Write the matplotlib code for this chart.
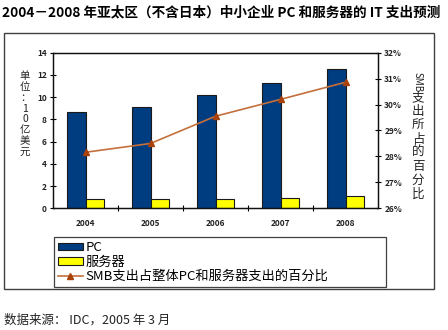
import matplotlib
matplotlib.use("Agg")
import matplotlib.pyplot as plt
import numpy as np
from matplotlib.patches import Rectangle

plt.rcParams['font.family'] = ['Noto Sans CJK SC', 'DejaVu Sans']

years = ["2004", "2005", "2006", "2007", "2008"]
pc = [8.7, 9.15, 10.15, 11.3, 12.55]
server = [0.85, 0.85, 0.85, 0.95, 1.1]
smb_share = [28.16, 28.5, 29.55, 30.2, 30.86]
left_ticks = [0, 2, 4, 6, 8, 10, 12, 14]
right_ticks = [26, 27, 28, 29, 30, 31, 32]

W, H = 448, 330
fig = plt.figure(figsize=(W / 100, H / 100), dpi=100)

def fx(px):
    return px / W

def fy(py):
    return 1 - py / H

# outer frame
fig.patches.append(Rectangle((fx(4), fy(289)), fx(430), (289 - 33) / H,
                             transform=fig.transFigure, fill=False,
                             edgecolor='#404040', linewidth=1.0))

ax = fig.add_axes([fx(53), fy(208.3), fx(378 - 53), (208.3 - 52.7) / H])
x = np.arange(len(years))
bw = 0.28
b1 = ax.bar(x - bw / 2, pc, bw, color='#003C80', edgecolor='#1a1a1a', linewidth=0.8, label='PC')
b2 = ax.bar(x + bw / 2, server, bw, color='#FFFF00', edgecolor='#1a1a1a', linewidth=0.8, label='服务器')
ax.set_xlim(-0.5, len(years) - 0.5)
ax.set_ylim(0, 14)
ax.set_yticks(left_ticks)
ax.set_yticklabels([str(t) for t in left_ticks], fontsize=6, fontweight='bold', color='#222222')
ax.set_xticks(np.arange(len(years) - 1) + 0.5)
ax.set_xticklabels([])
ax.set_xticks(x, minor=True)
ax.set_xticklabels(years, minor=True, fontsize=6, fontweight='bold', color='#222222')
ax.tick_params(axis='x', which='minor', length=0, pad=8)
ax.tick_params(axis='x', which='major', direction='inout', length=5, width=0.8)
ax.tick_params(axis='y', direction='inout', length=5, width=0.8, pad=2)
for s in ax.spines.values():
    s.set_linewidth(0.9)
    s.set_color('#111111')

ax2 = ax.twinx()
ln, = ax2.plot(x, smb_share, color='#C4703C', linewidth=1.2, marker='^', markersize=4,
               markerfacecolor='#A8420A', markeredgecolor='#A8420A',
               label='SMB支出占整体PC和服务器支出的百分比')
ax2.set_ylim(26, 32)
ax2.set_yticks(right_ticks)
ax2.set_yticklabels([f"{t}%" for t in right_ticks], fontsize=6, fontweight='bold', color='#222222')
ax2.tick_params(axis='y', direction='inout', length=5, width=0.8, pad=2)
for s in ax2.spines.values():
    s.set_linewidth(0.9)
    s.set_color('#111111')

# title
fig.text(fx(2), fy(12.5), "2004－2008 年亚太区（不含日本）中小企业 PC 和服务器的 IT 支出预测",
         fontsize=9.8, fontweight='bold', va='center', ha='left')

# left y label: stacked characters in one text
fig.text(fx(25), fy(114), "单\n位\n：\n1\n0\n亿\n美\n元", fontsize=7.5, ha='center', va='center',
         linespacing=1.12, color='#222222')

# right y label
fig.text(fx(418), fy(82), "SMB", fontsize=7, rotation=-90, ha='center', va='center', color='#222222')
for i, ch in enumerate("支出所占的百分比"):
    fig.text(fx(418), fy(98 + i * 13.7), ch, fontsize=9, ha='center', va='center', color='#222222')

# legend
leg = fig.legend([b1, b2, ln], ['PC', '服务器', 'SMB支出占整体PC和服务器支出的百分比'],
                 loc='upper left', bbox_to_anchor=(fx(54), fy(237), fx(332), 0.0),
                 mode='expand', fontsize=9.5, frameon=True, fancybox=False,
                 edgecolor='#111111', handlelength=1.9, handleheight=0.5,
                 labelspacing=0.12, borderpad=0.3, borderaxespad=0, handletextpad=0.2)
leg.get_frame().set_linewidth(0.9)

# source
fig.text(fx(4), fy(320), "数据来源： IDC，2005 年 3 月", fontsize=9, ha='left', va='center', color='#222222')

fig.savefig("out.png", dpi=100)
